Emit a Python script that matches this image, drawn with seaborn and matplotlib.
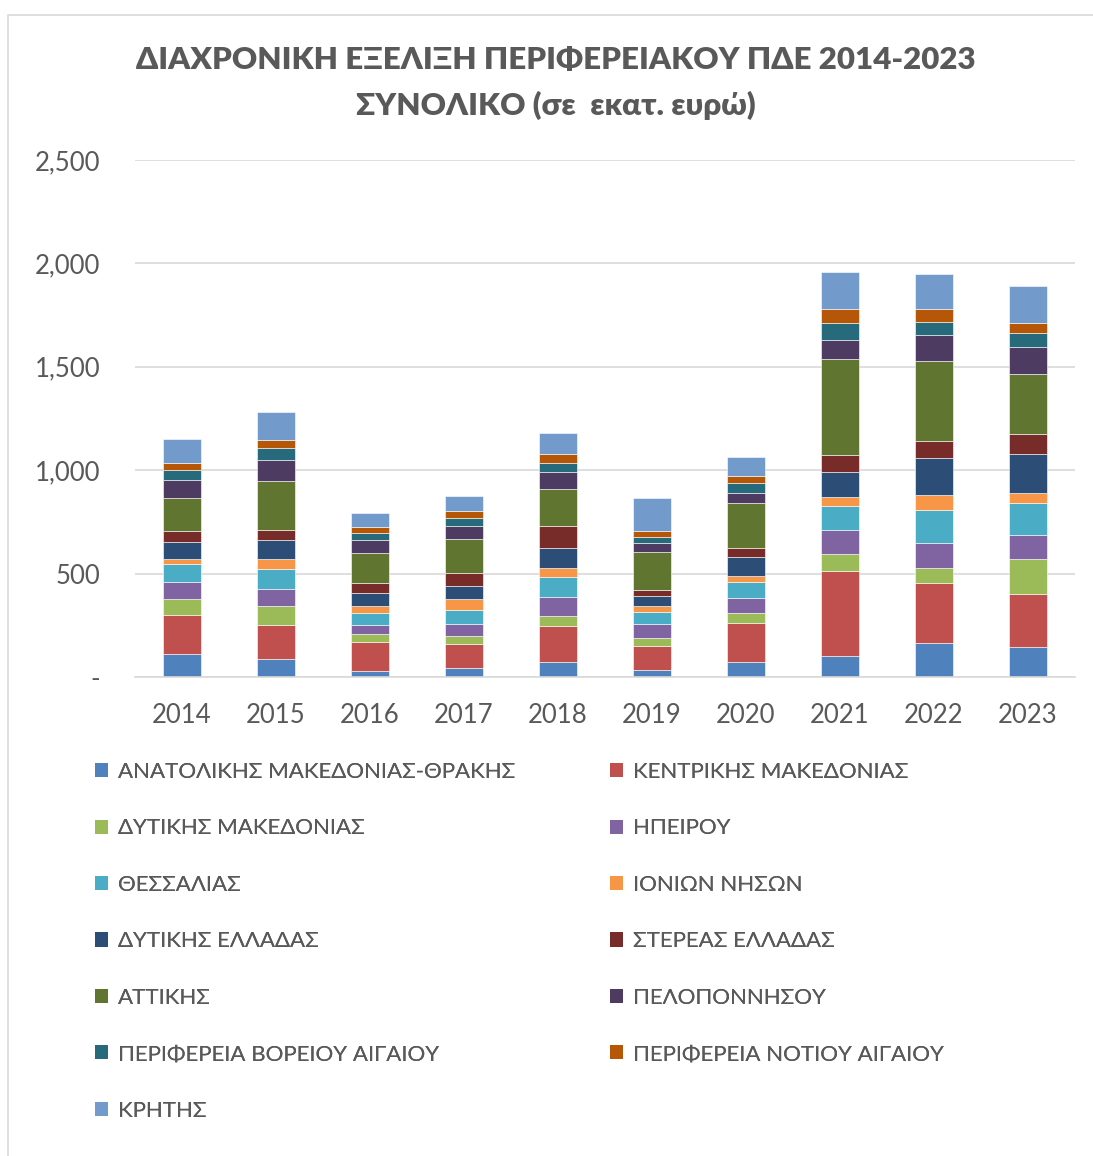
import numpy as np
import pandas as pd
import matplotlib
matplotlib.use('Agg')
import matplotlib.pyplot as plt
import seaborn as sns
from matplotlib.patches import Patch, Rectangle

# Data (εκατ. ευρώ)
years = ['2014', '2015', '2016', '2017', '2018', '2019', '2020', '2021', '2022', '2023']

regions = ['ΑΝΑΤΟΛΙΚΗΣ ΜΑΚΕΔΟΝΙΑΣ-ΘΡΑΚΗΣ', 'ΚΕΝΤΡΙΚΗΣ ΜΑΚΕΔΟΝΙΑΣ', 'ΔΥΤΙΚΗΣ ΜΑΚΕΔΟΝΙΑΣ',
           'ΗΠΕΙΡΟΥ', 'ΘΕΣΣΑΛΙΑΣ', 'ΙΟΝΙΩΝ ΝΗΣΩΝ', 'ΔΥΤΙΚΗΣ ΕΛΛΑΔΑΣ', 'ΣΤΕΡΕΑΣ ΕΛΛΑΔΑΣ',
           'ΑΤΤΙΚΗΣ', 'ΠΕΛΟΠΟΝΝΗΣΟΥ', 'ΠΕΡΙΦΕΡΕΙΑ ΒΟΡΕΙΟΥ ΑΙΓΑΙΟΥ',
           'ΠΕΡΙΦΕΡΕΙΑ ΝΟΤΙΟΥ ΑΙΓΑΙΟΥ', 'ΚΡΗΤΗΣ']

an_makedonias = [111, 85, 27, 44, 73, 34, 73, 102, 165, 147]
kentr_makedonias = [187, 168, 141, 115, 173, 118, 186, 411, 291, 255]
dyt_makedonias = [78, 92, 41, 39, 50, 35, 50, 84, 73, 168]
ipeirou = [82, 79, 40, 57, 90, 70, 75, 116, 121, 115]
thessalias = [86, 99, 60, 69, 96, 55, 73, 115, 155, 157]
ionion = [28, 47, 36, 52, 45, 29, 31, 42, 73, 47]
dyt_elladas = [80, 91, 63, 66, 97, 52, 92, 120, 179, 189]
stereas = [52, 50, 47, 61, 107, 26, 42, 82, 86, 95]
attikis = [163, 235, 146, 162, 177, 183, 220, 467, 385, 293]
peloponnisou = [87, 102, 63, 66, 81, 44, 47, 91, 125, 129]
vor_aigaiou = [47, 61, 31, 39, 44, 29, 47, 82, 65, 66]
not_aigaiou = [34, 39, 31, 32, 44, 32, 36, 66, 61, 50]
kritis = [118, 131, 65, 74, 104, 160, 90, 179, 170, 179]

series = [an_makedonias, kentr_makedonias, dyt_makedonias, ipeirou, thessalias, ionion,
          dyt_elladas, stereas, attikis, peloponnisou, vor_aigaiou, not_aigaiou, kritis]

colors = ['#4F81BD', '#C0504D', '#9BBB59', '#8064A2', '#4BACC6', '#F79646', '#2C4D75',
          '#772C2A', '#5F7530', '#4D3B62', '#276A7C', '#B65708', '#729ACA']

sns.set_style('white')
plt.rcParams['font.family'] = ['Lato', 'Noto Sans', 'DejaVu Sans']

fig = plt.figure(figsize=(10.93, 11.56), dpi=100)
ax = fig.add_axes([0.1235, 0.4144, 0.86, 0.4472])

# chart border
fig.patches.append(Rectangle((8 / 1093, -0.01), 1.05, 1 - 15 / 1156 + 0.01,
                             transform=fig.transFigure, fill=False,
                             edgecolor='#D9D9D9', linewidth=1.2))

bottom = np.zeros(len(years))
for name, vals, col in zip(regions, series, colors):
    df = pd.DataFrame({'year': years, 'value': vals})
    sns.barplot(data=df, x='year', y='value', bottom=bottom, color=col, width=0.4,
                edgecolor='#FFFFFF', linewidth=0.4, saturation=1, ax=ax)
    bottom += np.array(vals)

ax.set_xlim(-0.5, 9.5)
ax.set_ylim(0, 2500)
ax.set_yticks([0, 500, 1000, 1500, 2000, 2500])
ax.set_yticklabels(['-', '500', '1,000', '1,500', '2,000', '2,500'])
ax.yaxis.grid(True, color='#D9D9D9', linewidth=1.2)
ax.set_axisbelow(True)
ax.set_xlabel('')
ax.set_ylabel('')
for s in ['top', 'right', 'left']:
    ax.spines[s].set_visible(False)
ax.spines['bottom'].set_color('#D9D9D9')
ax.spines['bottom'].set_linewidth(1.2)
ax.tick_params(axis='y', length=0, pad=25, labelsize=18.5, labelcolor='#595959')
ax.tick_params(axis='x', length=0, pad=18.5, labelsize=18.5, labelcolor='#595959')

fig.text(556 / 1093, 1 - 60 / 1156, 'ΔΙΑΧΡΟΝΙΚΗ ΕΞΕΛΙΞΗ ΠΕΡΙΦΕΡΕΙΑΚΟΥ ΠΔΕ 2014-2023',
         ha='center', va='center', fontsize=22.5, fontweight='heavy', color='#595959')
fig.text(556 / 1093, 1 - 105 / 1156, 'ΣΥΝΟΛΙΚΟ (σε  εκατ. ευρώ)',
         ha='center', va='center', fontsize=22.5, fontweight='heavy', color='#595959')

# legend in two columns, row-wise order
handles = [Patch(facecolor=c, edgecolor='none') for c in colors]
col_x = [95 / 1093, 610 / 1093]
for k in range(2):
    idx = list(range(k, len(regions), 2))
    leg = fig.legend([handles[i] for i in idx], [regions[i] for i in idx],
                     loc='upper left', bbox_to_anchor=(col_x[k], 1 - 762 / 1156),
                     frameon=False, fontsize=16, labelcolor='#595959',
                     handlelength=0.6, handleheight=0.6, handletextpad=0.45,
                     labelspacing=1.64, borderaxespad=0, borderpad=0)
    fig.add_artist(leg)

fig.savefig('out.png', dpi=100)
